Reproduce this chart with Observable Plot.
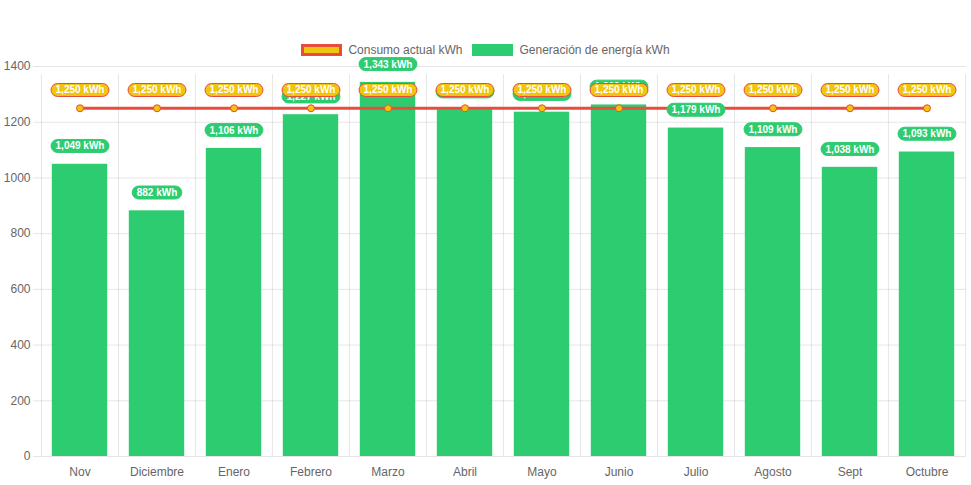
<!DOCTYPE html>
<html>
<head>
<meta charset="utf-8">
<script src="https://cdn.jsdelivr.net/npm/d3@7"></script>
<script src="https://cdn.jsdelivr.net/npm/@observablehq/plot@0.6"></script>
<style>
  body { margin: 0; background: white; font-family: "Liberation Sans", Arial, sans-serif; }
  #legend { height: 56px; box-sizing: border-box; padding-top: 43px; display: flex; justify-content: center; font-size: 12px; color: #666; line-height: 12px; }
  .item { display: flex; align-items: center; margin: 0 5px; }
  .box { width: 41px; height: 12px; box-sizing: border-box; margin-right: 6px; }
</style>
</head>
<body>
<div id="legend">
  <div class="item"><div class="box" style="background:#f1c40f;border:3px solid #e74c3c"></div><span>Consumo actual kWh</span></div>
  <div class="item"><div class="box" style="background:#2ecc71;border:1px solid #2ecc71"></div><span>Generación de energía kWh</span></div>
</div>
<div id="chart"></div>
<script>
const months = ["Nov","Diciembre","Enero","Febrero","Marzo","Abril","Mayo","Junio","Julio","Agosto","Sept","Octubre"];
const generacion = [1049, 882, 1106, 1227, 1343, 1245, 1236, 1262, 1179, 1109, 1038, 1093];
const consumo = [1250, 1250, 1250, 1250, 1250, 1250, 1250, 1250, 1250, 1250, 1250, 1250];
const yTicks = [0, 200, 400, 600, 800, 1000, 1200, 1400];

const data = months.map((m, i) => ({month: m, gen: generacion[i], con: consumo[i]}));
const fmt = d3.format(",");
const W = 971, ML = 40, MR = 5;
const bw = (W - ML - MR) / months.length;
const grid = "rgba(0,0,0,0.1)";

const chart = Plot.plot({
  width: W, height: 429,
  marginTop: 10, marginBottom: 29, marginLeft: ML, marginRight: MR,
  style: {fontFamily: "'Liberation Sans', Arial, sans-serif", fontSize: "12px", color: "#666", background: "white", overflow: "visible"},
  x: {domain: months, padding: 0, tickSize: 0, tickPadding: 11, label: null},
  y: {domain: [0, 1400], ticks: yTicks, tickSize: 0, tickPadding: 10, label: null, tickFormat: d => String(d)},
  marks: [
    Plot.ruleY(yTicks, {stroke: grid, insetLeft: -7}),
    Plot.ruleX(months, {x: d => d, y1: 0, y2: 1400, dx: -bw / 2, stroke: grid, insetBottom: -8}),
    Plot.ruleX([months[months.length - 1]], {x: d => d, y1: 0, y2: 1400, dx: bw / 2, stroke: grid, insetBottom: -8}),
    Plot.barY(data, {x: "month", y: "gen", fill: "#2ecc71", insetLeft: bw * 0.14, insetRight: bw * 0.14}),
    Plot.lineY(data, {x: "month", y: "con", stroke: "#e74c3c", strokeWidth: 3}),
    Plot.dot(data, {x: "month", y: "con", r: 3.5, fill: "#f1c40f", stroke: "#e74c3c", strokeWidth: 1}),
    Plot.text(data, {x: "month", y: "gen", text: d => fmt(d.gen) + " kWh", dy: -18, fill: "white", fontWeight: "bold", fontSize: 10}),
    Plot.text(data, {x: "month", y: "con", text: d => fmt(d.con) + " kWh", dy: -18, fill: "white", fontWeight: "bold", fontSize: 10})
  ]
});
document.getElementById("chart").appendChild(chart);

const ns = "http://www.w3.org/2000/svg";
// label groups: the text marks (in mark order), excluding axis groups
const labelGroups = [...chart.children].filter(g => g.tagName === "g" && g.getAttribute("aria-label") === "text");
function pillify(g, fill, stroke) {
  if (!g) return;
  g.querySelectorAll("text").forEach(t => {
    const b = t.getBBox();
    const w = b.width + 9, h = 13;
    const r = document.createElementNS(ns, "rect");
    r.setAttribute("x", b.x + b.width / 2 - w / 2);
    r.setAttribute("y", b.y + b.height / 2 - h / 2);
    r.setAttribute("width", w);
    r.setAttribute("height", h);
    r.setAttribute("rx", 6.5);
    r.setAttribute("fill", fill);
    r.setAttribute("stroke", stroke);
    r.setAttribute("stroke-width", 1);
    const tr = t.getAttribute("transform");
    if (tr) r.setAttribute("transform", tr);
    t.parentNode.insertBefore(r, t);
  });
}
pillify(labelGroups[0], "#2ecc71", "#2ecc71");
pillify(labelGroups[1], "#f1c40f", "#e74c3c");
</script>
</body>
</html>
